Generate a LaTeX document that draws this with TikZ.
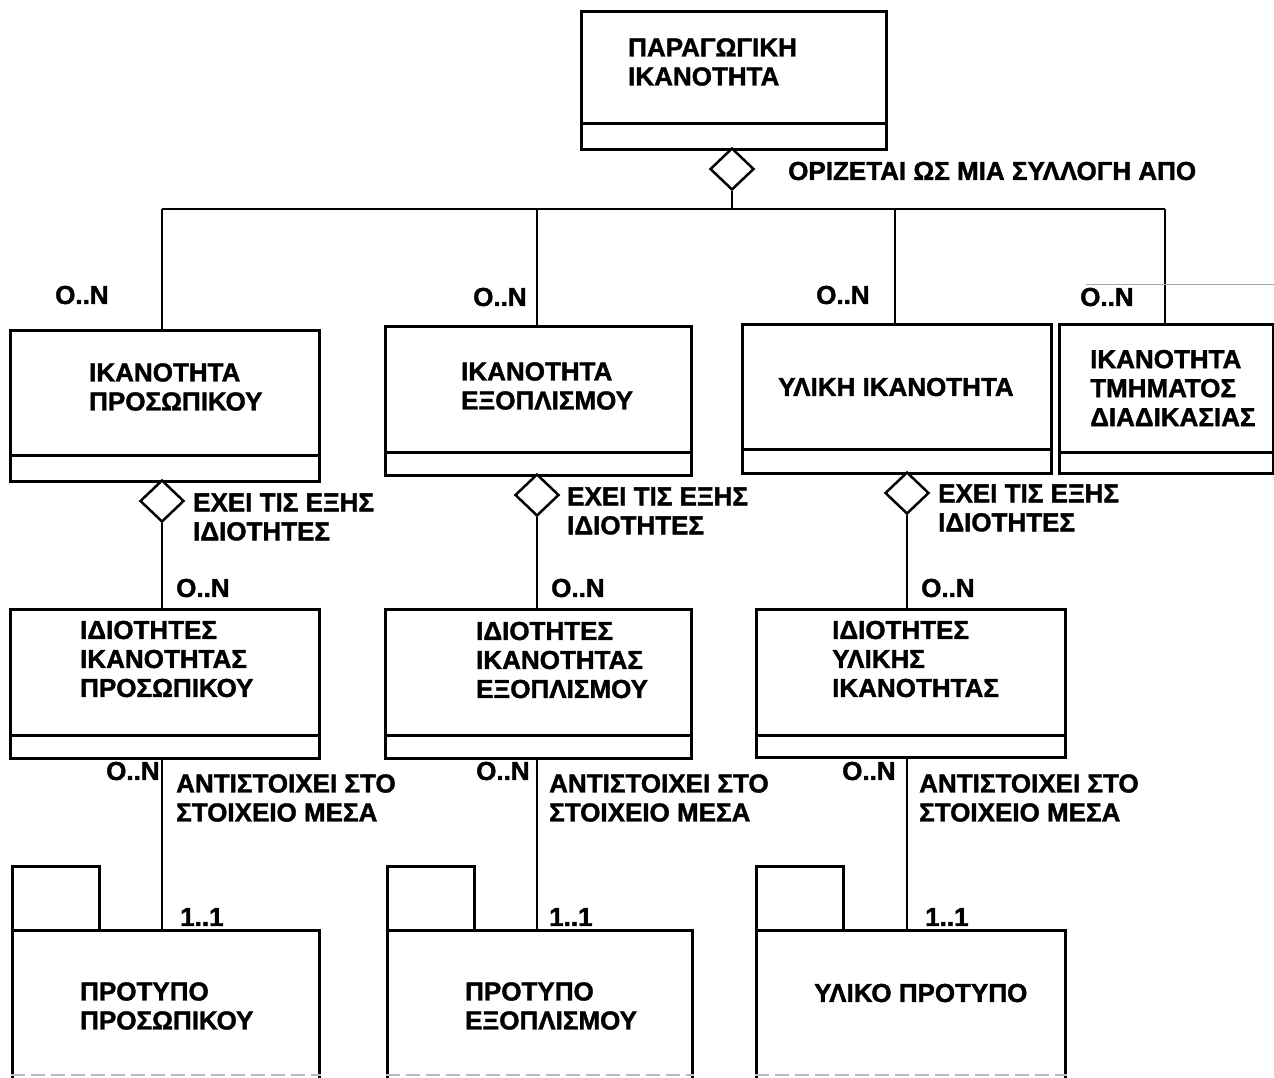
\documentclass[tikz,border=0pt]{standalone}
\usepackage{fontspec}
\setmainfont{Liberation Sans}
\newfontfamily\diafont{Liberation Sans Bold}[FakeBold=1.5]
\usetikzlibrary{shapes.geometric}
% horizontal compartment line inside a class box, #2 pt above its bottom
\newcommand{\compart}[2]{\draw[line width=2.5pt] ([yshift=#2pt]#1.south west) -- ([yshift=#2pt]#1.south east);}
\begin{document}
\begin{tikzpicture}[x=1pt,y=-1pt,
  box/.style={draw, line width=2.5pt, inner sep=0pt, anchor=north west},
  txt/.style={font=\diafont\fontsize{26}{29}\selectfont, inner sep=0pt, anchor=west, align=left},
  link/.style={line width=2.1pt},
  agg/.style={draw, diamond, line width=2.5pt, inner sep=0pt, minimum width=44pt, minimum height=42pt, fill=white}]
\useasboundingbox[fill=white] (0,0) rectangle (1274,1077);

% ---------- top class ----------
\node[box, minimum width=305pt, minimum height=138pt] (top) at (580,10) {};
\compart{top}{27}
\node[txt] (topT) at (628,62) {ΠΑΡΑΓΩΓΙΚΗ\\ΙΚΑΝΟΤΗΤΑ};

% ---------- first row ----------
\node[box, minimum width=309pt, minimum height=151pt] (r1a) at (9,329) {};
\compart{r1a}{27}
\node[txt] (r1aT) at (89,387) {ΙΚΑΝΟΤΗΤΑ\\ΠΡΟΣΩΠΙΚΟΥ};

\node[box, minimum width=306pt, minimum height=149pt] (r1b) at (384,325) {};
\compart{r1b}{24}
\node[txt] (r1bT) at (461,386) {ΙΚΑΝΟΤΗΤΑ\\ΕΞΟΠΛΙΣΜΟΥ};

\node[box, minimum width=309pt, minimum height=149pt] (r1c) at (741,323) {};
\compart{r1c}{25}
\node[txt] (r1cT) at (778,387) {ΥΛΙΚΗ ΙΚΑΝΟΤΗΤΑ};

\node[box, minimum width=214pt, minimum height=149pt] (r1d) at (1058,323) {};
\compart{r1d}{22}
\node[txt] (r1dT) at (1090,388) {ΙΚΑΝΟΤΗΤΑ\\ΤΜΗΜΑΤΟΣ\\ΔΙΑΔΙΚΑΣΙΑΣ};

% ---------- second row ----------
\node[box, minimum width=309pt, minimum height=149pt] (r2a) at (9,608) {};
\compart{r2a}{24}
\node[txt] (r2aT) at (80,659) {ΙΔΙΟΤΗΤΕΣ\\ΙΚΑΝΟΤΗΤΑΣ\\ΠΡΟΣΩΠΙΚΟΥ};

\node[box, minimum width=306pt, minimum height=149pt] (r2b) at (384,608) {};
\compart{r2b}{24}
\node[txt] (r2bT) at (476,660) {ΙΔΙΟΤΗΤΕΣ\\ΙΚΑΝΟΤΗΤΑΣ\\ΕΞΟΠΛΙΣΜΟΥ};

\node[box, minimum width=309pt, minimum height=148pt] (r2c) at (755,608) {};
\compart{r2c}{23}
\node[txt] (r2cT) at (832,659) {ΙΔΙΟΤΗΤΕΣ\\ΥΛΙΚΗΣ\\ΙΚΑΝΟΤΗΤΑΣ};

% ---------- third row: packages ----------
\node[box, minimum width=87pt, minimum height=64pt] (t3a) at (11,865) {};
\node[box, minimum width=307pt, minimum height=170pt] (p3a) at (11,929) {};
\node[txt] (p3aT) at (80,1006) {ΠΡΟΤΥΠΟ\\ΠΡΟΣΩΠΙΚΟΥ};

\node[box, minimum width=87pt, minimum height=64pt] (t3b) at (386,865) {};
\node[box, minimum width=305pt, minimum height=170pt] (p3b) at (386,929) {};
\node[txt] (p3bT) at (465,1006) {ΠΡΟΤΥΠΟ\\ΕΞΟΠΛΙΣΜΟΥ};

\node[box, minimum width=87pt, minimum height=64pt] (t3c) at (755,865) {};
\node[box, minimum width=309pt, minimum height=170pt] (p3c) at (755,929) {};
\node[txt] (p3cT) at (814,993) {ΥΛΙΚΟ ΠΡΟΤΥΠΟ};

% faint lower edges of the packages
\foreach \p in {p3a,p3b,p3c}
  \draw[gray!55, line width=1.2pt, dash pattern=on 14pt off 6pt] ([yshift=-146pt]\p.north west) -- ([yshift=-146pt]\p.north east);

% ---------- aggregation from the top class ----------
\node[agg] (d0) at (732,169) {};
\coordinate (j1) at (162,209);
\coordinate (j2) at (537,209);
\coordinate (j3) at (895,209);
\coordinate (j4) at (1165,209);
\draw[link] (d0.south) -- (d0.south |- j1);
\draw[link] (j1) -- (j4);
\draw[link] (j1) -- (j1 |- r1a.north);
\draw[link] (j2) -- (j2 |- r1b.north);
\draw[link] (j3) -- (j3 |- r1c.north);
\draw[link] (j4) -- (j4 |- r1d.north);
\node[txt] (d0L) at (788,171) {ΟΡΙΖΕΤΑΙ ΩΣ ΜΙΑ ΣΥΛΛΟΓΗ ΑΠΟ};

\node[txt] (m1) at (55,295) {O..N};
\node[txt] (m2) at (473,297) {O..N};
\node[txt] (m3) at (816,295) {O..N};
\node[txt] (m4) at (1080,297) {O..N};
% thin grey rule above the last multiplicity
\coordinate (s1) at (1086,284);
\coordinate (s2) at (1274,284);
\draw[gray!70, line width=1pt] (s1) -- (s2);

% ---------- aggregations to the property classes ----------
\node[agg] (d1) at (162,501) {};
\node[agg] (d2) at (537,495) {};
\node[agg] (d3) at (907,493) {};
\draw[link] (d1.south) -- (d1.south |- r2a.north);
\draw[link] (d2.south) -- (d2.south |- r2b.north);
\draw[link] (d3.south) -- (d3.south |- r2c.north);
\node[txt] (d1L) at (193,517) {ΕΧΕΙ ΤΙΣ ΕΞΗΣ\\ΙΔΙΟΤΗΤΕΣ};
\node[txt] (d2L) at (567,511) {ΕΧΕΙ ΤΙΣ ΕΞΗΣ\\ΙΔΙΟΤΗΤΕΣ};
\node[txt] (d3L) at (938,508) {ΕΧΕΙ ΤΙΣ ΕΞΗΣ\\ΙΔΙΟΤΗΤΕΣ};
\node[txt] (n1) at (176,588) {O..N};
\node[txt] (n2) at (551,588) {O..N};
\node[txt] (n3) at (921,588) {O..N};

% ---------- links to the packages ----------
\draw[link] (d1.south |- r2a.south) -- (d1.south |- p3a.north);
\draw[link] (d2.south |- r2b.south) -- (d2.south |- p3b.north);
\draw[link] (d3.south |- r2c.south) -- (d3.south |- p3c.north);
\node[txt] (q1) at (106,771) {O..N};
\node[txt] (q2) at (476,771) {O..N};
\node[txt] (q3) at (842,771) {O..N};
\node[txt] (a1) at (176,798) {ΑΝΤΙΣΤΟΙΧΕΙ ΣΤΟ\\ΣΤΟΙΧΕΙΟ ΜΕΣΑ};
\node[txt] (a2) at (549,798) {ΑΝΤΙΣΤΟΙΧΕΙ ΣΤΟ\\ΣΤΟΙΧΕΙΟ ΜΕΣΑ};
\node[txt] (a3) at (919,798) {ΑΝΤΙΣΤΟΙΧΕΙ ΣΤΟ\\ΣΤΟΙΧΕΙΟ ΜΕΣΑ};
\node[txt] (o1) at (180,917) {1..1};
\node[txt] (o2) at (549,917) {1..1};
\node[txt] (o3) at (925,917) {1..1};
\end{tikzpicture}
\end{document}
